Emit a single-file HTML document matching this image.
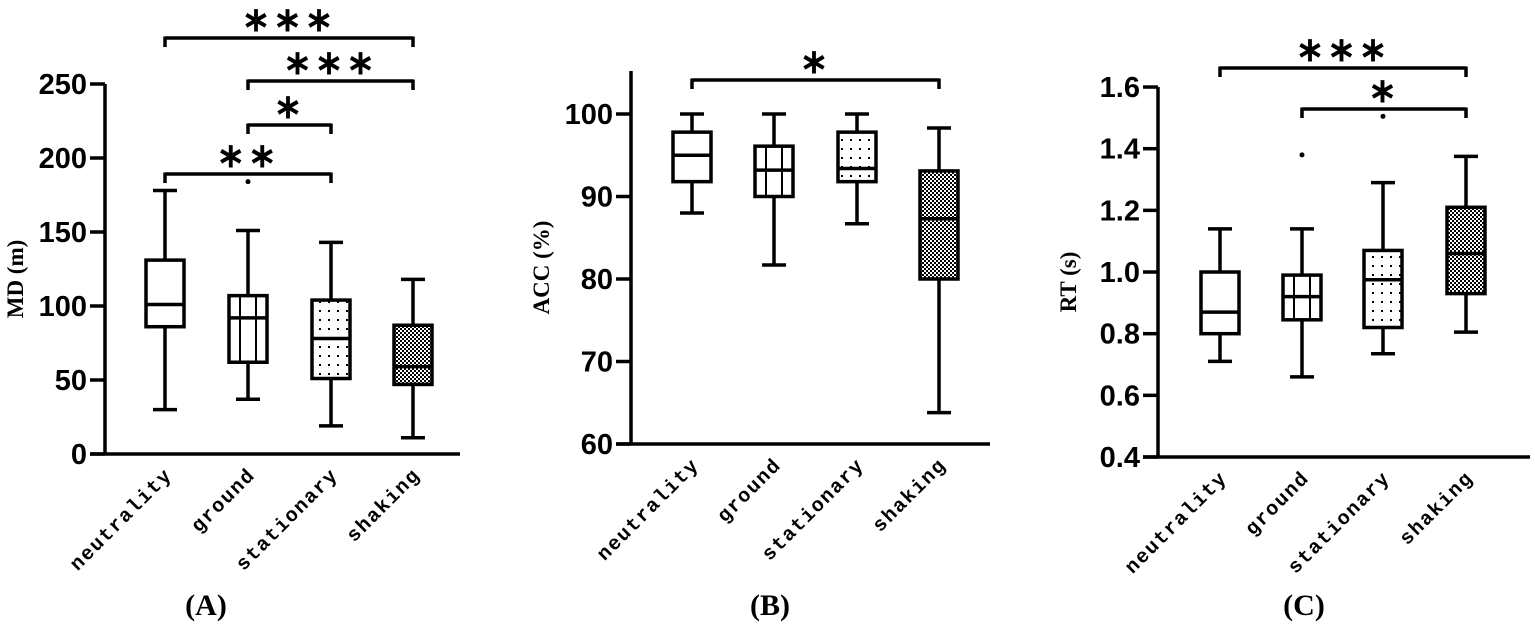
<!DOCTYPE html>
<html><head><meta charset="utf-8"><style>
html,body{margin:0;padding:0;background:#fff;}
svg{display:block;}
.t{font-family:"Liberation Sans",Arial,sans-serif;font-weight:bold;font-size:29px;}
.l{font-family:"Liberation Mono",monospace;font-size:20px;letter-spacing:1.5px;font-weight:bold;}
.yl{font-family:"Liberation Serif",serif;font-weight:bold;font-size:23px;}
.pl{font-family:"Liberation Serif",serif;font-weight:bold;font-size:30px;}
.st{font-family:"Liberation Sans",sans-serif;font-weight:bold;font-size:34px;letter-spacing:3px;}
</style></head><body>
<svg id="s" width="1535" height="632" xmlns="http://www.w3.org/2000/svg">
<defs>
<pattern id="dots" width="9" height="9" patternUnits="userSpaceOnUse"><rect x="4" y="4" width="2" height="2" fill="#000"/></pattern>
<pattern id="chk" width="4" height="4" patternUnits="userSpaceOnUse"><rect x="0" y="0" width="2" height="2" fill="#000"/><rect x="2" y="2" width="2" height="2" fill="#000"/></pattern>
</defs>
</svg>
<script>
var s=document.getElementById('s'),h='';
function L(x1,y1,x2,y2,w){h+='<line x1="'+x1+'" y1="'+y1+'" x2="'+x2+'" y2="'+y2+'" stroke="#000" stroke-width="'+(w||3.5)+'"/>';}
function T(x,y,t,c,a,tr){h+='<text x="'+x+'" y="'+y+'" class="'+c+'" text-anchor="'+(a||'middle')+'"'+(tr?' transform="'+tr+'"':'')+'>'+t+'</text>';}
var names=['neutrality','ground','stationary','shaking'];
function panel(ax,axRight,ytop,y0,v0,ppu,ticks,fmt,cx,data,ylab,plab,plx,brk){
 L(ax,ytop,ax,y0+1.5,3.5);L(ax-15,y0,axRight,y0,3.5);
 ticks.forEach(function(v){var y=y0-(v-v0)*ppu;L(ax-15,y,ax,y,3.5);T(ax-18,y+10,fmt(v),'t','end');});
 T(0,0,ylab,'yl','middle','translate('+(ax-82)+','+((ytop+y0)/2+10)+') rotate(-90)');
 data.forEach(function(d,i){var x=cx[i],Y=function(v){return y0-(v-v0)*ppu;};var hw=19;
  L(x,Y(d[0]),x,Y(d[1]));L(x,Y(d[4]),x,Y(d[3]));L(x-12,Y(d[0]),x+12,Y(d[0]));L(x-12,Y(d[4]),x+12,Y(d[4]));
  var fill=['#fff','#fff','url(#dots)','url(#chk)'][i];
  h+='<rect x="'+(x-hw)+'" y="'+Y(d[3])+'" width="'+2*hw+'" height="'+(Y(d[1])-Y(d[3]))+'" fill="'+fill+'" stroke="#000" stroke-width="3.5"/>';
  if(i==1){[-8,8].forEach(function(o){L(x+o,Y(d[3]),x+o,Y(d[1]),2);});}
  L(x-hw,Y(d[2]),x+hw,Y(d[2]));
  if(d[5])h+='<circle cx="'+x+'" cy="'+Y(d[5])+'" r="2.5" fill="#000"/>';
  T(x+8,y0+22,names[i],'l','end','rotate(-45 '+(x+8)+' '+(y0+22)+')');
 });
 T(plx,615,plab,'pl');
 brk.forEach(function(b){L(b[0],b[2]+9,b[0],b[2]-1.5);L(b[1],b[2]+9,b[1],b[2]-1.5);L(b[0],b[2],b[1],b[2]);T((b[0]+b[1])/2,b[2]-7,b[3],'st');});
}
panel(105,460,84,454,0,1.48,[0,50,100,150,200,250],function(v){return v;},[165,248,331,413],
 [[30,86,101,131,178],[37,62,92,107,151,184],[19,51,78,104,143],[11,47,59,87,118]],'MD (m)','(A)',206,
 [[165,413,38,'∗∗∗'],[248,413,81,'∗∗∗'],[248,331,125,'∗'],[165,331,174,'∗∗']]);
panel(631,990,71,444,60,8.25,[60,70,80,90,100],function(v){return v;},[692,774,857,939],
 [[88,91.8,95,97.8,100],[81.7,90,93.2,96.1,100],[86.7,91.8,93.4,97.8,100],[63.8,80,87.3,93.1,98.3]],'ACC (%)','(B)',770,
 [[692,939,80,'∗']]);
panel(1158,1530,87,457,0.4,308.3,[0.4,0.6,0.8,1.0,1.2,1.4,1.6],function(v){return v.toFixed(1);},[1220,1302,1383,1466],
 [[0.71,0.80,0.87,1.00,1.14],[0.66,0.845,0.92,0.99,1.14,1.38],[0.735,0.82,0.975,1.07,1.29,1.505],[0.805,0.93,1.06,1.21,1.375]],'RT (s)','(C)',1304,
 [[1220,1466,68,'∗∗∗'],[1302,1466,109,'∗']]);
s.innerHTML+=h;
</script>
</body></html>
